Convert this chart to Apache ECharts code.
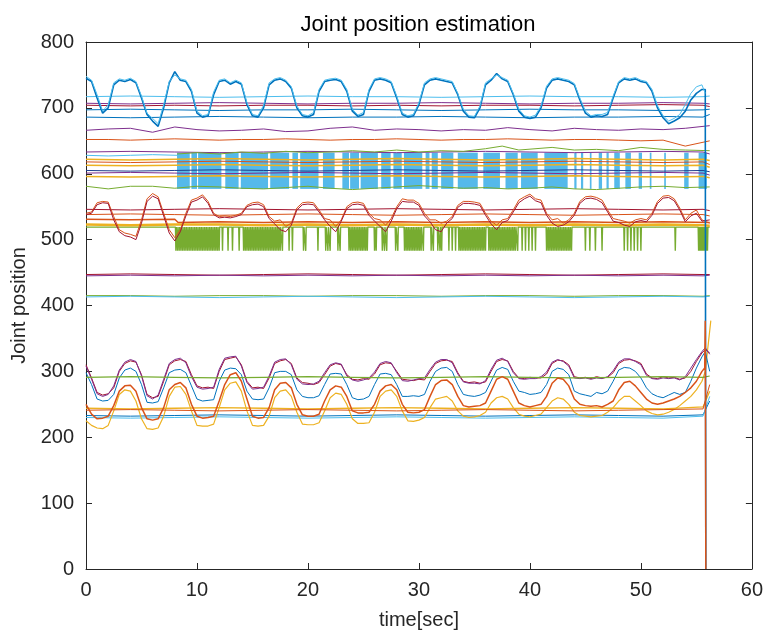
<!DOCTYPE html>
<html>
<head>
<meta charset="utf-8">
<script src="https://cdn.jsdelivr.net/npm/echarts@6/dist/echarts.min.js"></script>
<style>html,body{margin:0;padding:0;background:#fff;}#c{width:766px;height:635px;}</style>
</head>
<body>
<div id="c"></div>
<script>
// ---------- sampling grids (seconds) ----------
const time = [
0,0.5,1,1.5,2,2.5,3,3.5,4,4.5,
5,5.5,6,6.5,7,7.5,8,8.5,9,9.5,
10,10.5,11,11.5,12,12.5,13,13.5,14,14.5,
15,15.5,16,16.5,17,17.5,18,18.5,19,19.5,
20,20.5,21,21.5,22,22.5,23,23.5,24,24.5,
25,25.5,26,26.5,27,27.5,28,28.5,29,29.5,
30,30.5,31,31.5,32,32.5,33,33.5,34,34.5,
35,35.5,36,36.5,37,37.5,38,38.5,39,39.5,
40,40.5,41,41.5,42,42.5,43,43.5,44,44.5,
45,45.5,46,46.5,47,47.5,48,48.5,49,49.5,
50,50.5,51,51.5,52,52.5,53,53.5,54,54.5,
55,55.5];
const timeFlat = [0,4,8,12,16,20,24,28,32,36,40,44,48,52,55.6,56.2];
const timeWavy = [0,2,4,6,8,10,12,14,16,18,20,22,24,26,28,30,32,34,36,38,40,42,44,46,48,50,52,54,56.2];

// ---------- oscillating joints ----------
const topBlue = [
745,740,715,692,700,735,742,740,743,738,
715,690,680,672,700,738,755,742,740,725,
692,686,688,720,740,742,736,740,736,705,
688,686,700,735,742,744,740,730,700,688,
686,690,725,740,742,743,740,725,695,687,
690,725,742,744,742,738,715,690,686,688,
705,735,742,744,742,740,738,720,695,686,
685,700,735,742,752,744,740,720,695,686,
684,686,700,730,742,744,742,740,735,712,
692,686,688,687,690,715,738,744,742,744,
740,738,725,700,685,676,680,685,695,712,
722,728];
const topBlueTail = [[55.8,728],[55.85,0]];
const topLightBlue = [
748,742,720,695,705,738,744,742,745,740,
718,692,684,676,705,740,750,744,742,728,
695,688,690,724,742,744,738,742,738,708,
690,688,704,738,744,746,742,732,703,690,
688,693,728,742,744,745,742,728,698,689,
693,728,744,746,744,740,718,692,688,690,
708,738,744,746,744,742,740,722,698,688,
687,703,738,744,750,746,742,722,698,688,
686,689,703,733,744,746,744,742,737,715,
695,688,690,690,693,718,740,746,744,746,
742,740,728,703,688,680,684,690,705,722,
732,735];
const topLightBlueTail = [[55.8,722]];
const redWave = [
540,542,556,558,557,535,515,510,508,505,
530,562,570,565,540,515,503,515,540,560,
563,568,558,540,535,536,535,537,540,552,
556,557,553,535,528,530,520,525,548,556,
557,556,545,532,530,520,530,550,556,557,
555,540,532,530,522,532,550,562,560,560,
555,540,530,530,525,528,535,552,558,558,
557,555,540,528,522,530,532,545,560,565,
569,562,560,540,530,532,525,530,540,558,
565,566,564,560,545,532,530,528,525,530,
532,530,540,558,566,567,562,548,530,540,
545,530];
const redWaveTail = [[56.2,525]];
const darkRedWave = [
538,540,553,556,555,530,512,506,504,500,
525,558,566,562,536,510,498,512,536,557,
560,565,555,538,533,534,533,535,538,550,
553,554,550,532,524,515,512,522,545,553,
554,553,542,530,520,512,528,547,553,554,
552,537,528,520,512,528,547,558,557,557,
552,536,527,515,512,525,532,549,555,555,
554,552,537,524,515,526,529,542,556,562,
566,559,556,537,525,520,522,527,537,555,
562,563,561,556,542,528,526,522,520,527,
529,527,537,555,563,564,559,545,527,536,
540,528];
const darkRedWaveTail = [[56.2,530]];
const lowDarkRed = [
310,290,268,264,266,275,300,312,316,314,
295,265,260,262,285,310,316,318,315,295,
278,275,276,274,300,318,320,322,310,285,
275,276,274,290,312,316,318,312,290,283,
282,280,283,295,308,312,310,295,288,287,
289,288,296,310,313,312,300,288,287,286,
288,287,300,312,316,317,315,298,285,283,
284,282,284,300,315,318,316,300,290,289,
291,290,290,296,312,317,316,310,292,290,
291,289,292,290,291,298,312,317,318,316,
312,296,290,289,292,290,291,288,290,300,
315,328];
const lowDarkRedTail = [[55.8,333],[56.2,328]];
const lowPurple = [
308,288,266,262,265,278,302,314,318,315,
293,263,258,264,288,312,318,320,313,292,
276,273,274,276,303,320,322,323,308,283,
273,274,276,293,314,318,319,310,288,281,
280,281,285,298,310,313,311,293,287,285,
287,290,299,312,315,313,298,286,285,287,
289,290,303,314,318,318,313,296,284,282,
282,281,286,303,317,320,315,298,289,288,
289,289,292,299,314,318,315,308,290,289,
290,288,290,289,292,301,314,319,319,315,
310,294,289,288,290,289,290,287,292,305,
318,330];
const lowPurpleTail = [[55.8,336],[56.2,326]];
const lowBlue = [
298,280,258,255,256,265,290,302,305,300,
280,253,252,254,275,298,302,303,298,278,
258,255,256,257,285,302,305,304,295,270,
258,257,258,275,298,300,300,295,272,262,
260,260,263,280,296,297,296,280,260,257,
258,262,280,296,297,295,280,262,262,263,
262,265,285,300,305,306,300,280,265,263,
262,264,268,285,302,306,303,285,270,268,
265,266,268,280,300,305,303,295,270,266,
264,262,268,266,270,285,302,306,305,300,
290,275,266,262,260,264,268,265,268,285,
305,322];
const lowBlueTail = [[55.8,330],[56.2,300]];
const lowOrange = [
250,235,228,229,232,248,270,278,279,270,
245,228,226,228,245,272,280,283,275,250,
232,229,230,232,255,280,295,298,285,258,
232,229,230,245,272,282,283,275,250,234,
232,232,235,255,272,278,276,262,240,237,
237,238,250,270,278,280,272,250,238,237,
238,242,262,280,286,287,280,262,248,246,
247,248,252,270,288,292,288,270,252,248,
246,248,250,262,282,290,288,278,258,250,
248,247,248,246,250,255,272,283,285,278,
268,258,252,250,252,255,258,262,268,275,
285,300];
const lowOrangeTail = [[55.75,305],[55.8,377],[55.85,0]];
const lowYellow = [
225,218,214,213,218,240,265,272,270,255,
228,213,212,214,232,262,276,277,265,240,
218,217,217,220,245,272,282,284,270,240,
218,217,218,232,260,270,272,262,238,220,
219,219,222,240,260,267,265,250,228,221,
221,222,238,262,270,272,262,240,225,224,
226,230,245,258,260,262,255,240,232,230,
231,233,238,252,260,262,258,245,235,232,
231,233,235,245,255,260,258,250,238,233,
232,231,232,233,238,245,255,262,262,255,
248,240,236,234,235,238,242,248,255,262,
272,285];
const lowYellowTail = [[55.8,300],[56.3,377]];

// ---------- slowly varying joints (timeFlat grid) ----------
const lightBlue717 = [717,718,717,716,717,718,717,717,716,717,718,717,717,716,717,718];
const purple707   = [707,706,707,708,707,706,707,707,708,707,706,707,707,708,707,706];
const darkRed704  = [704,703,704,703,704,704,703,704,703,704,704,703,704,705,704,702];
const blue697     = [697,698,697,696,697,697,698,697,696,697,698,697,697,696,697,698];
const blue686     = [686,685,686,687,686,685,686,686,687,686,685,686,686,687,686,690];
const purple633   = [633,634,633,632,633,634,633,632,633,634,633,632,633,634,633,630];
const yellow622   = [622,621,622,623,622,621,622,623,622,621,622,623,622,621,622,620];
const orange618   = [618,617,618,619,618,617,618,619,618,617,618,619,618,617,618,614];
const yellow613   = [613,612,613,614,613,612,613,614,613,612,613,614,613,612,613,610];
const darkBlue605 = [605,604,605,606,605,604,605,606,605,604,605,606,605,604,605,603];
const darkRed601  = [601,602,601,600,601,602,601,600,601,602,601,600,601,602,601,598];
const yellow596   = [596,595,596,597,596,595,596,597,596,595,596,597,596,595,596,594];
const darkRed546  = [546,545,546,547,546,545,546,547,546,545,546,547,546,545,546,544];
const red538      = [538,539,538,537,538,539,538,537,538,539,538,537,538,539,538,536];
const yellow522   = [523,522,523,523,522,523,522,523,522,523,522,523,522,523,522,521];
const darkRed447  = [447,448,447,446,447,448,447,446,447,448,447,446,447,448,447,447];
const purple446   = [445,446,445,446,445,446,445,446,445,446,445,446,445,446,445,446];
const green415    = [415,415,414,415,415,414,415,415,414,415,415,414,415,415,414,415];
const lightBlue413= [413,414,413,412,413,414,413,412,413,414,413,412,413,414,413,414];
const green291    = [291,292,291,290,291,292,291,290,291,292,291,290,291,292,291,293];
const yellow244   = [244,243,244,245,244,243,244,245,244,243,244,245,244,243,246,270];
const orange241   = [241,242,241,240,241,242,241,240,241,242,241,240,241,242,243,280];
const blue233     = [233,232,233,234,233,232,233,234,233,232,233,234,233,232,234,255];
const lightBlue230= [230,229,230,231,230,229,230,231,230,229,230,231,230,229,232,262];

// ---------- wavy joints (timeWavy grid) ----------
const purpleWavy = [666,668,669,663,671,667,665,666,668,664,665,669,671,666,668,667,665,667,666,670,667,665,669,667,666,668,667,669,673];
const orangeWavy = [652,652,651,652,653,652,651,652,652,653,652,651,652,652,653,652,651,652,652,653,652,651,652,652,651,650,651,642,650];
const greenLow   = [581,577,581,581,578,581,580,578,577,579,581,578,576,578,580,582,580,578,579,577,578,580,577,576,578,580,581,579,580];

// ---------- piecewise joints ([time, value]) ----------
const lightBlueEarly = [[0,628],[2,627],[4,628],[6,629],[8.2,628]];
const greenTop = [[8.2,630],[10,632],[12,630],[14,633],[16,631],[18,634],[20,632],[22,633],[24,635],[26,633],[28,636],[30,633],[32,635],[34,634],[36,638],[37.5,642],[39,636],[42,640],[44,636],[46,637],[48,635],[50,640],[52,637],[54,636],[56.2,635]];
const orangeMid = [[0,531],[4,530],[8,531],[8.3,526],[12,527],[16,526],[20,527],[24,526],[28,527],[32,526],[36,527],[40,526],[44,527],[48,526],[52,527],[56.2,526]];

// light-blue joint chattering between two levels: intervals [start, end] (s)
const chatterLow = 577, chatterHigh = 632;
const chatterBlocks = [[8.2,9.35],[9.5,10.0],[10.1,12.2],[12.55,13.75],[13.95,16.4],[16.6,18.3],[18.6,19.1],[19.3,20.95],[21.35,22.4],[23.1,23.7],[23.8,24.6],[24.75,26.3],[26.6,27.45],[27.7,28.45],[28.65,30.3],[30.6,30.95],[31.15,31.7],[32.0,33.1],[33.5,35.3],[35.8,37.3],[37.8,38.9],[39.2,40.7],[41.3,43.4],[44.0,44.2],[44.6,44.8],[45.4,45.55],[46.2,46.5],[46.9,47.1],[47.6,48.1],[48.6,49.1],[49.8,50.1],[50.8,50.95],[52.1,52.25],[53.9,54.3],[55.2,55.95]];

// green joint dropping out: base level and dropout instants (s)
const greenBase = 519, greenDrop = 483;
const greenDropTimes = [
8.1,8.25,8.4,8.55,8.7,8.85,9.0,9.15,9.3,9.45,9.6,9.75,9.9,10.05,10.2,10.35,10.5,10.65,10.8,10.95,11.1,11.25,11.4,11.55,11.7,11.85,12.0,
12.3,12.8,13.2,13.8,
14.2,14.35,14.5,14.65,14.8,14.95,15.1,15.25,15.4,15.55,15.7,15.85,16.0,16.15,16.3,16.45,16.6,16.75,16.9,17.05,17.2,17.35,17.5,17.7,
18.3,18.6,19.6,19.8,20.9,21.6,21.8,22.0,22.7,22.9,
23.7,23.85,24.0,24.15,24.3,24.45,24.6,24.75,24.9,25.05,25.2,25.35,
26.0,26.15,26.7,26.9,27.1,27.9,28.1,
28.7,28.85,29.0,29.15,29.3,29.45,29.6,29.75,29.9,30.05,30.2,30.4,
31.1,31.3,31.7,31.9,32.05,32.7,33.0,33.3,
33.6,33.75,33.9,34.05,34.2,34.35,34.5,34.65,34.8,34.95,35.1,35.25,35.4,35.55,35.7,35.85,36.0,
36.3,36.45,36.6,36.75,36.9,37.05,37.2,37.35,37.5,37.65,37.8,37.95,38.1,38.25,38.4,38.55,38.7,38.9,
39.3,39.6,39.9,40.2,40.5,
41.5,41.65,41.8,41.95,42.1,42.25,42.4,42.55,42.7,42.85,43.0,43.15,43.3,43.45,43.6,43.75,
45.0,45.4,45.9,46.5,
48.5,48.8,49.1,49.4,49.7,50.0,
53.1,
55.2,55.3,55.4,55.5,55.6,55.7,55.8,55.9,56.0];

// ---------- tick settings ----------
const xTicks = {min:0, max:60, step:10};
const yTicks = {min:0, max:800, step:100};

// ---------- build ----------
const COL = {blue:'#0072BD', orange:'#D95319', yellow:'#EDB120', purple:'#7E2F8E', green:'#77AC30', lightBlue:'#4DBEEE', darkRed:'#A2142F'};
function zip(ts, vs){ const out=[]; const n=Math.min(ts.length, vs.length); for(let i=0;i<n;i++) out.push([ts[i], vs[i]]); return out; }
function line(data, color, width){
  return {type:'line', data:data, showSymbol:false, symbol:'none', silent:true, animation:false,
    lineStyle:{color:color, width:width||1}, itemStyle:{color:color}, z:2};
}
const greenSpikeData = [[0, greenBase]];
greenDropTimes.forEach(t => { greenSpikeData.push([t-0.04, greenBase]); greenSpikeData.push([t, greenDrop]); greenSpikeData.push([t+0.04, greenBase]); });
greenSpikeData.push([56.2, greenBase]);

const blocksSeries = {
  type:'custom', silent:true, animation:false, z:2,
  data: chatterBlocks.map(b => [b[0], b[1], chatterLow, chatterHigh]),
  encode:{x:[0,1], y:[2,3]},
  renderItem: function(params, api){
    const p0 = api.coord([api.value(0), api.value(3)]);
    const p1 = api.coord([api.value(1), api.value(2)]);
    return {type:'rect', shape:{x:p0[0], y:p0[1], width:Math.max(p1[0]-p0[0], 1.2), height:p1[1]-p0[1]},
      style:{fill:'#55b9ea'}};
  }
};

const series = [
  // top flats
  line(zip(timeFlat, lightBlue717), COL.lightBlue),
  line(zip(timeFlat, purple707), COL.purple),
  line(zip(timeFlat, darkRed704), COL.darkRed),
  line(zip(timeFlat, blue697), COL.blue),
  line(zip(timeFlat, blue686), COL.blue),
  line(zip(timeWavy, purpleWavy), COL.purple),
  line(zip(timeWavy, orangeWavy), COL.orange),
  // chatter band
  line(zip(timeFlat, yellow622), COL.yellow, 1.5),
  line(zip(timeFlat, orange618), COL.orange),
  line(zip(timeFlat, yellow613), COL.yellow, 1.5),
  line(zip(timeFlat, darkRed601), COL.purple),
  line(zip(timeFlat, yellow596), COL.yellow, 1.5),
  line(zip(timeWavy, greenLow), COL.green),
  line(lightBlueEarly, COL.lightBlue),
  blocksSeries,
  line(zip(timeFlat, darkBlue605), '#1f3f8f'),
  line(zip(timeFlat, purple633), COL.purple),
  line(greenTop, COL.green),
  // middle band
  line(zip(timeFlat, darkRed546), COL.darkRed),
  line(zip(timeFlat, red538), COL.orange),
  line(greenSpikeData, COL.green, 1.4),
  line(orangeMid, COL.orange, 1.5),
  line(zip(timeFlat, yellow522), COL.yellow, 2.5),
  line(zip(time, redWave).concat(redWaveTail), COL.orange, 1),
  line(zip(time, darkRedWave).concat(darkRedWaveTail), COL.darkRed, 1),
  line(zip(timeFlat, darkRed447), COL.darkRed),
  line(zip(timeFlat, purple446), COL.purple),
  line(zip(timeFlat, green415), COL.green),
  line(zip(timeFlat, lightBlue413), COL.lightBlue),
  // lower band
  line(zip(timeFlat, blue233), COL.blue),
  line(zip(timeFlat, lightBlue230), COL.lightBlue),
  line(zip(time, lowYellow).concat(lowYellowTail), COL.yellow, 1.2),
  line(zip(timeFlat, yellow244), COL.yellow, 1.3),
  line(zip(timeFlat, orange241), COL.orange),
  line(zip(time, lowBlue).concat(lowBlueTail), COL.blue, 1),
  line(zip(time, lowDarkRed).concat(lowDarkRedTail), COL.darkRed, 1),
  line(zip(time, lowPurple).concat(lowPurpleTail), COL.purple, 1),
  line(zip(timeFlat, green291), COL.green, 1.2),
  // top oscillation + end
  line(zip(time, topBlue).concat(topBlueTail), COL.blue, 1.6),
  line(zip(time, topLightBlue).concat(topLightBlueTail), COL.lightBlue, 1),
  line(zip(time, lowOrange).concat(lowOrangeTail), COL.orange, 1.5)
];

const FONT = '"Liberation Sans", Arial, Helvetica, sans-serif';
const axisCol = '#262626';
const axisLineCfg = {show:true, onZero:false, lineStyle:{color:axisCol, width:1}};
const tickCfg = {show:true, inside:true, length:6, lineStyle:{color:axisCol}};
const chart = echarts.init(document.getElementById('c'), null, {renderer:'canvas'});
chart.setOption({
  animation:false,
  backgroundColor:'#ffffff',
  title:{text:'Joint position estimation', left:413, top:9, textAlign:'center',
    textStyle:{fontFamily:FONT, fontSize:22, fontWeight:'normal', color:'#000'}},
  grid:{left:86, right:13, top:42, bottom:63, containLabel:false},
  xAxis:[
    {type:'value', position:'bottom', min:xTicks.min, max:xTicks.max, interval:xTicks.step,
     name:'time[sec]', nameLocation:'middle', nameGap:41,
     nameTextStyle:{fontFamily:FONT, fontSize:20, color:axisCol},
     axisLine:axisLineCfg, axisTick:tickCfg,
     axisLabel:{fontFamily:FONT, fontSize:20, color:axisCol, margin:11},
     splitLine:{show:false}},
    {type:'value', position:'top', min:xTicks.min, max:xTicks.max, interval:xTicks.step,
     axisLine:axisLineCfg, axisTick:tickCfg,
     axisLabel:{show:false}, splitLine:{show:false}}
  ],
  yAxis:[
    {type:'value', position:'left', min:yTicks.min, max:yTicks.max, interval:yTicks.step,
     name:'Joint position', nameLocation:'middle', nameGap:47, nameRotate:90,
     nameTextStyle:{fontFamily:FONT, fontSize:20, color:axisCol},
     axisLine:axisLineCfg, axisTick:tickCfg,
     axisLabel:{fontFamily:FONT, fontSize:20, color:axisCol, margin:12},
     splitLine:{show:false}},
    {type:'value', position:'right', min:yTicks.min, max:yTicks.max, interval:yTicks.step,
     axisLine:axisLineCfg, axisTick:tickCfg,
     axisLabel:{show:false}, splitLine:{show:false}}
  ],
  series: series
});
</script>
</body>
</html>
